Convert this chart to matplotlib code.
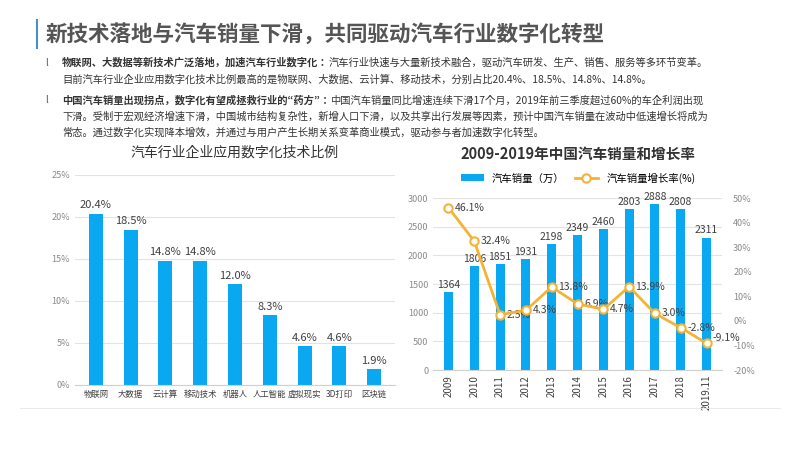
import matplotlib
matplotlib.use("Agg")
import matplotlib.pyplot as plt
from matplotlib.ticker import FuncFormatter

plt.rcParams['font.family'] = ['Noto Sans CJK JP', 'DejaVu Sans']

tech = ['物联网', '大数据', '云计算', '移动技术', '机器人', '人工智能', '虚拟现实', '3D打印', '区块链']
tech_pct = [20.4, 18.5, 14.8, 14.8, 12.0, 8.3, 4.6, 4.6, 1.9]
years = ['2009', '2010', '2011', '2012', '2013', '2014', '2015', '2016', '2017', '2018', '2019.11']
sales = [1364, 1806, 1851, 1931, 2198, 2349, 2460, 2803, 2888, 2808, 2311]
growth = [46.1, 32.4, 2.5, 4.3, 13.8, 6.9, 4.7, 13.9, 3.0, -2.8, -9.1]

BLUE = '#0aa8f0'
ORANGE = '#f5b335'
GRID = '#e3e3e3'
TICK = '#8a8a8a'

fig = plt.figure(figsize=(8, 4.5), dpi=100)
W, H = 800, 450
def ax_px(x0, y0, x1, y1):
    return fig.add_axes([x0 / W, 1 - y1 / H, (x1 - x0) / W, (y1 - y0) / H])

# title
fig.add_artist(plt.Line2D([37/W, 37/W], [1-20/H, 1-48/H], color='#4a90c8', lw=1.5))
fig.text(46/W, 1-34/H, '新技术落地与汽车销量下滑，共同驱动汽车行业数字化转型', fontsize=15.5,
         fontweight='bold', color='#555555', va='center')

lines = [
    (63, [('物联网、大数据等新技术广泛落地，加速汽车行业数字化：', True),
          ('汽车行业快速与大量新技术融合，驱动汽车研发、生产、销售、服务等多环节变革。', False)], True),
    (80, [('目前汽车行业企业应用数字化技术比例最高的是物联网、大数据、云计算、移动技术，分别占比20.4%、18.5%、14.8%、14.8%。', False)], False),
    (100, [('中国汽车销量出现拐点，数字化有望成拯救行业的“药方”：', True),
           ('中国汽车销量同比增速连续下滑17个月，2019年前三季度超过60%的车企利润出现', False)], True),
    (117, [('下滑。受制于宏观经济增速下滑，中国城市结构复杂性，新增人口下滑，以及共享出行发展等因素，预计中国汽车销量在波动中低速增长将成为', False)], False),
    (133, [('常态。通过数字化实现降本增效，并通过与用户产生长期关系变革商业模式，驱动参与者加速数字化转型。', False)], False),
]
renderer = fig.canvas.get_renderer()
for y, parts, bullet in lines:
    if bullet:
        fig.text(45/W, 1-y/H, 'l', fontsize=7, color='#555555', va='center')
    x = 62
    for txt, bold in parts:
        t = fig.text(x/W, 1-y/H, txt, fontsize=7.4, color='#333333',
                     fontweight='bold' if bold else 'normal', va='center')
        bb = t.get_window_extent(renderer)
        x += bb.width

# left chart
ax1 = ax_px(75, 175, 395, 385)
xs = range(len(tech))
ax1.bar(xs, tech_pct, width=0.4, color=BLUE, zorder=2)
for i, v in enumerate(tech_pct):
    ax1.text(i, v + 0.4, f'{v:.1f}%', ha='center', va='bottom', fontsize=8, color='#404040')
ax1.set_ylim(0, 25)
ax1.set_xlim(-0.6, len(tech) - 0.4)
ax1.set_yticks(range(0, 26, 5))
ax1.yaxis.set_major_formatter(FuncFormatter(lambda v, p: f'{int(v)}%'))
ax1.set_xticks(list(xs))
ax1.set_xticklabels(tech, fontsize=6, color='#404040')
ax1.tick_params(axis='y', labelsize=6.5, colors=TICK, length=0)
ax1.tick_params(axis='x', length=0)
ax1.grid(axis='y', color=GRID, lw=0.8, zorder=0)
for s in ['top', 'right', 'left']:
    ax1.spines[s].set_visible(False)
ax1.spines['bottom'].set_color('#d0d0d0')
fig.text(235/W, 1-153/H, '汽车行业企业应用数字化技术比例', fontsize=10, color='#333333', ha='center', va='center')

# right chart
ax2 = ax_px(433, 198, 722, 370)
xs2 = list(range(len(years)))
bars = ax2.bar(xs2, sales, width=0.35, color=BLUE, zorder=2, label='汽车销量（万）')
for i, v in enumerate(sales):
    ax2.text(i, v + 40, str(v), ha='center', va='bottom', fontsize=7.5, color='#404040', zorder=5)
ax2.set_ylim(0, 3000)
ax2.set_yticks(range(0, 3001, 500))
ax2.set_xlim(-0.6, len(years) - 0.4)
ax2.set_xticks(xs2)
ax2.set_xticklabels(years, rotation=90, fontsize=7, color='#404040')
ax2.tick_params(axis='y', labelsize=6.5, colors=TICK, length=0)
ax2.tick_params(axis='x', length=0)
ax2.grid(axis='y', color=GRID, lw=0.8, zorder=0)
for s in ['top', 'right', 'left']:
    ax2.spines[s].set_visible(False)
ax2.spines['bottom'].set_color('#d0d0d0')

ax3 = ax2.twinx()
ln, = ax3.plot(xs2, growth, color=ORANGE, lw=2, marker='o', ms=6, mfc='white', mec=ORANGE, mew=1.5,
               zorder=4, label='汽车销量增长率(%)')
for i, v in enumerate(growth):
    ax3.text(i + 0.25, v + (2 if i == len(growth) - 1 else 0), f'{v:.1f}%', ha='left', va='center',
             fontsize=7.5, color='#404040')
ax3.set_ylim(-20, 50)
ax3.set_yticks(range(-20, 51, 10))
ax3.yaxis.set_major_formatter(FuncFormatter(lambda v, p: f'{int(v)}%'))
ax3.tick_params(axis='y', labelsize=6.5, colors=TICK, length=0, pad=8)
for s in ['top', 'right', 'left', 'bottom']:
    ax3.spines[s].set_visible(False)

fig.text(578/W, 1-154/H, '2009-2019年中国汽车销量和增长率', fontsize=10.5, fontweight='bold',
         color='#333333', ha='center', va='center')
fig.legend([bars, ln], ['汽车销量（万）', '汽车销量增长率(%)'], loc='center',
           bbox_to_anchor=(578/W, 1-178/H), ncol=2, frameon=False, fontsize=7.5,
           handlelength=2.2, columnspacing=1.0)

fig.add_artist(plt.Line2D([20/W, 780/W], [1-408/H, 1-408/H], color='#e6e6e6', lw=0.6))
fig.savefig('out.png', dpi=100)
